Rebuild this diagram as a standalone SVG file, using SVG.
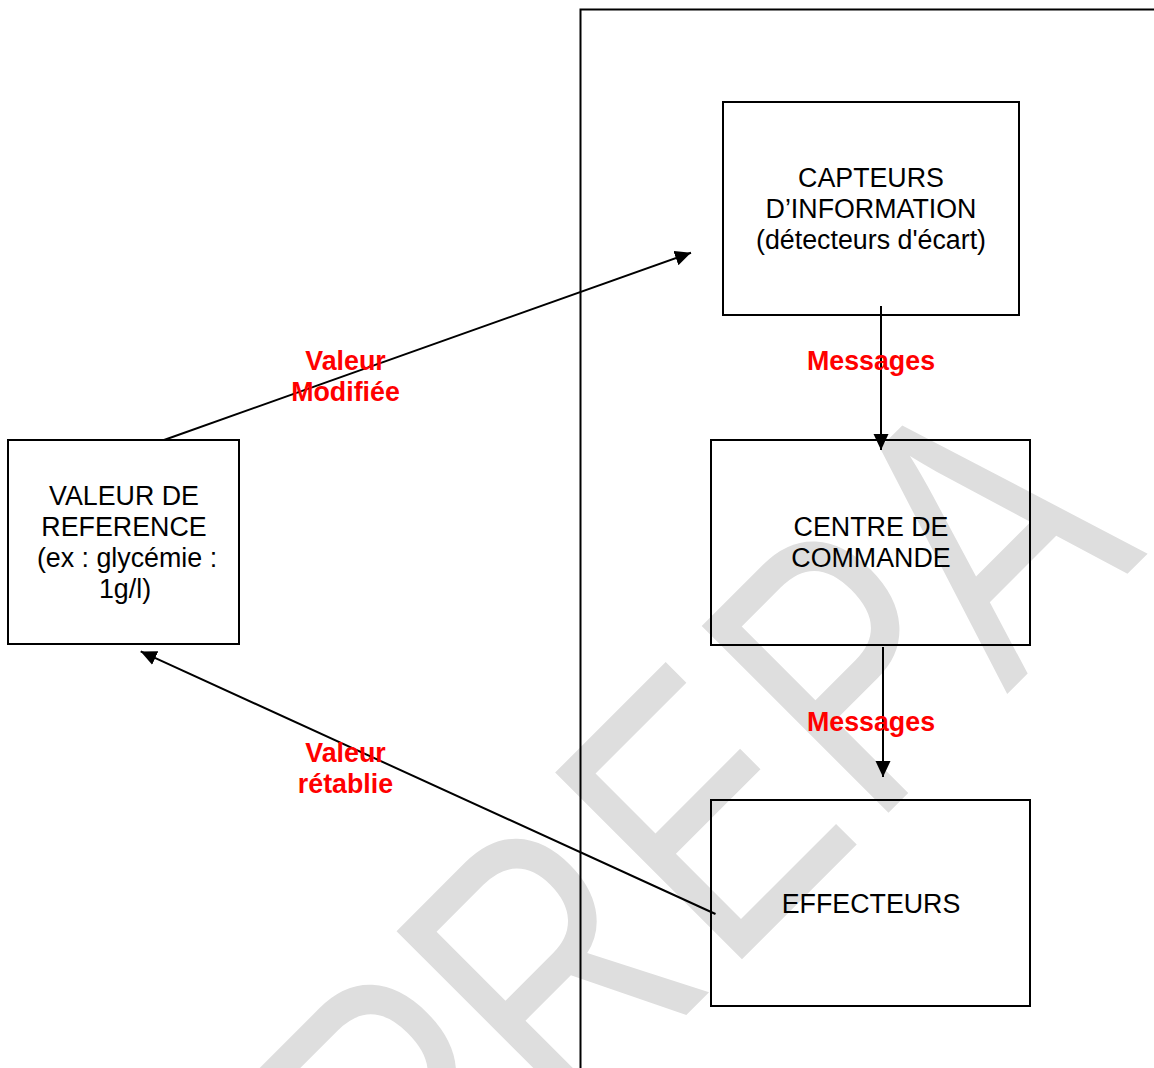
<svg xmlns="http://www.w3.org/2000/svg" width="1154" height="1068" viewBox="0 0 1154 1068">
<defs>
<style>
.wm{font-family:"Liberation Sans",Arial,sans-serif;font-size:384px;fill:#dedede}
.box{fill:none;stroke:#000;stroke-width:2}
.t{font-family:"Liberation Sans",Arial,sans-serif;font-size:26.8px;fill:#000;text-anchor:middle}
.lbl{font-family:"Liberation Sans",Arial,sans-serif;font-size:26.8px;font-weight:bold;fill:#ff0000;text-anchor:middle}
.con{fill:none;stroke:#000;stroke-width:2}
</style>
<marker id="ah" markerUnits="userSpaceOnUse" markerWidth="17" markerHeight="16" refX="16" refY="7.5" orient="auto" viewBox="0 0 17 16">
<path d="M0,0 L16,7.5 L0,15 z" fill="#000"/>
</marker>
</defs>
<rect width="1154" height="1068" fill="#fff"/>
<g id="watermark">
<text class="wm" transform="rotate(-45) scale(0.78,1)" x="-766.8 -516.2 -228.6 37.1 283.1" y="1203">PREPA</text>
</g>
<g id="frame">
<path d="M580.5,1068 L580.5,9.5 L1154,9.5" fill="none" stroke="#000" stroke-width="2"/>
</g>
<g id="connectors">
<line class="con" x1="164" y1="440" x2="691" y2="252.7" marker-end="url(#ah)"/>
<line class="con" x1="881" y1="306" x2="881" y2="450" marker-end="url(#ah)"/>
<line class="con" x1="883" y1="647" x2="883" y2="777" marker-end="url(#ah)"/>
<line class="con" x1="715.5" y1="914" x2="140.7" y2="651.4" stroke-width="1.5" marker-end="url(#ah)"/>
</g>
<g id="capteurs">
<rect class="box" x="723" y="102" width="296" height="213"/>
<text class="t" x="871" y="187">CAPTEURS</text>
<text class="t" x="871" y="217.5">D’INFORMATION</text>
<text class="t" x="871" y="249">(détecteurs d'écart)</text>
</g>
<g id="reference">
<rect class="box" x="8" y="440" width="231" height="204"/>
<text class="t" x="124" y="505">VALEUR DE</text>
<text class="t" x="124" y="536">REFERENCE</text>
<text class="t" x="127" y="567">(ex : glycémie :</text>
<text class="t" x="125" y="598">1g/l)</text>
</g>
<g id="centre">
<rect class="box" x="711" y="440" width="319" height="205"/>
<text class="t" x="871" y="536">CENTRE DE</text>
<text class="t" x="871" y="566.5">COMMANDE</text>
</g>
<g id="effecteurs">
<rect class="box" x="711" y="800" width="319" height="206"/>
<text class="t" x="871" y="913">EFFECTEURS</text>
</g>
<g id="labels">
<text class="lbl" x="871" y="370">Messages</text>
<text class="lbl" x="871" y="731">Messages</text>
<text class="lbl" x="345.5" y="370">Valeur</text>
<text class="lbl" x="345.5" y="401">Modifiée</text>
<text class="lbl" x="345.5" y="762">Valeur</text>
<text class="lbl" x="345.5" y="792.5">rétablie</text>
</g>
</svg>
